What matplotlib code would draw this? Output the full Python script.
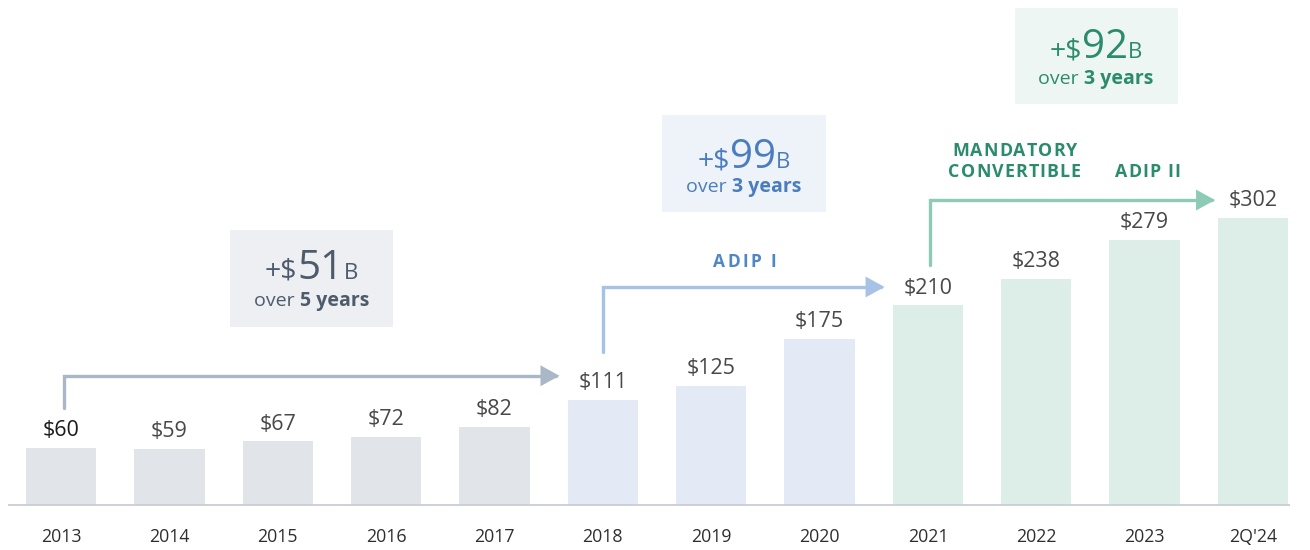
import matplotlib
matplotlib.use("Agg")
import matplotlib.pyplot as plt
from matplotlib.patches import Rectangle, FancyArrowPatch
from matplotlib.path import Path
from matplotlib.transforms import offset_copy

plt.rcParams['font.family'] = ['Open Sans', 'DejaVu Sans']

# ---- data ----
categories = ["2013", "2014", "2015", "2016", "2017", "2018", "2019", "2020",
              "2021", "2022", "2023", "2Q'24"]
values = [60, 59, 67, 72, 82, 111, 125, 175, 210, 238, 279, 302]
value_labels = ["$60", "$59", "$67", "$72", "$82", "$111", "$125", "$175",
                "$210", "$238", "$279", "$302"]
groups = [0, 0, 0, 0, 0, 1, 1, 1, 2, 2, 2, 2]

bar_colors = ["#E1E5E9", "#E3EAF5", "#DDEEE8"]
arrow_colors = ["#A9B7C6", "#A6C2E5", "#8ECBB6"]
box_colors = ["#EDEFF2", "#EEF3FA", "#EEF6F3"]
text_colors = ["#4D5B6C", "#4A7DBF", "#2A8B6D"]

growth_big = ["51", "99", "92"]
growth_years = ["5 years", "3 years", "3 years"]

fig = plt.figure(figsize=(13.1, 5.5), dpi=100)
ax = fig.add_axes([0, 0, 1, 1])
ax.set_xlim(-0.563, 11.526)
ax.set_ylim(-47.4, 531.6)
ax.axis('off')

x = list(range(len(categories)))
ax.bar(x, values, width=0.65, color=[bar_colors[g] for g in groups], zorder=2)

# baseline
ax.plot([-0.49, 11.34], [0, 0], color="#C9CED3", lw=1.3, zorder=3, solid_capstyle='butt')

for i, (v, lab, cat) in enumerate(zip(values, value_labels, categories)):
    ax.annotate(lab, (i, v), xytext=(0, 8.5), textcoords='offset points',
                ha='center', va='baseline', fontsize=15.5,
                color="#1A1A1A" if i == 0 else "#484848")
    ax.text(i, -39, cat, ha='center', va='baseline', fontsize=12.8, color="#2E2E2E")

# arrows (elbow)
arrow_paths = [
    [(0.03, 102), (0.03, 136), (4.6, 136)],
    [(5.0, 161), (5.0, 229.5), (7.6, 229.5)],
    [(8.02, 252.6), (8.02, 321), (10.65, 321)],
]
for pts, c in zip(arrow_paths, arrow_colors):
    codes = [Path.MOVETO] + [Path.LINETO] * (len(pts) - 1)
    p = FancyArrowPatch(path=Path(pts, codes),
                        arrowstyle='-|>,head_length=10,head_width=5.5',
                        color=c, lw=2.4, zorder=4, joinstyle='miter',
                        shrinkA=0, shrinkB=0, mutation_scale=1)
    ax.add_patch(p)

fig.canvas.draw()
renderer = fig.canvas.get_renderer()


def draw_runs(xc, yb, parts, color, tracking=0.0):
    """Draw text runs side by side, centred on xc, on baseline yb (data)."""
    items = []
    total = 0.0
    for s, size, weight in parts:
        chunks = list(s) if tracking else [s]
        for ch in chunks:
            t = ax.text(xc, yb, ch, fontsize=size, fontweight=weight, color=color,
                        ha='left', va='baseline', zorder=6)
            w = t.get_window_extent(renderer).width + tracking
            items.append((t, w))
            total += w
    total -= tracking
    off = -total / 2
    for t, w in items:
        t.set_transform(offset_copy(ax.transData, fig=fig, x=off, y=0, units='dots'))
        off += w


# program labels
draw_runs(6.31, 251.0, [("ADIP I", 12.5, 'bold')], "#4F86C6", tracking=2.4)
draw_runs(8.80, 367.4, [("MANDATORY", 12.8, 'bold')], text_colors[2], tracking=1.1)
draw_runs(8.80, 345.3, [("CONVERTIBLE", 12.8, 'bold')], text_colors[2], tracking=1.1)
draw_runs(10.03, 345.3, [("ADIP II", 12.8, 'bold')], text_colors[2], tracking=1.1)

# boxes
boxes = [  # x0, x1, y0, y1
    (1.56, 3.06, 187.4, 289.5),
    (5.55, 7.06, 308.4, 410.5),
    (8.80, 10.31, 422.0, 523.0),
]
box_text = [  # xc, big baseline, small baseline
    (2.31, 237.9, 209.5),
    (6.30, 354.7, 329.5),
    (9.55, 470.5, 443.0),
]

for k in range(3):
    x0, x1, y0, y1 = boxes[k]
    ax.add_patch(Rectangle((x0, y0), x1 - x0, y1 - y0, facecolor=box_colors[k],
                           edgecolor='none', zorder=5))
    xc, yb1, yb2 = box_text[k]
    draw_runs(xc, yb1, [("+$", 20.5, 'normal'), (growth_big[k], 29, 'normal'),
                        ("B", 16, 'normal')], text_colors[k])
    draw_runs(xc, yb2, [("over ", 14, 'normal'), (growth_years[k], 14, 'bold')],
              text_colors[k])

fig.savefig("out.png", dpi=100)
